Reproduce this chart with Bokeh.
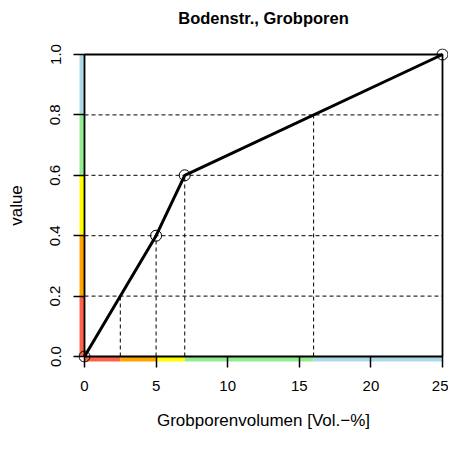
from bokeh.plotting import figure
from bokeh.models import Range1d, FixedTicker, NumeralTickFormatter, Title
from bokeh.embed import file_html
from bokeh.resources import INLINE

# ---- data ----
volume = [0, 5, 7, 25]
score = [0.0, 0.4, 0.6, 1.0]
class_values = [0.2, 0.4, 0.6, 0.8]
class_volumes = [2.5, 5, 7, 16]
band_x = [0, 2.5, 5, 7, 16, 25]
band_y = [0.0, 0.2, 0.4, 0.6, 0.8, 1.0]
band_colors = ["tomato", "orange", "yellow", "lightgreen", "lightblue"]
x_ticks = [0, 5, 10, 15, 20, 25]
y_ticks = [0.0, 0.2, 0.4, 0.6, 0.8, 1.0]
title_text = "Bodenstr., Grobporen"
x_label = "Grobporenvolumen [Vol.\u2212%]"
y_label = "value"

# ---- layout (pixels) ----
W, H = 448, 434
MB_L, MB_R, MB_T, MB_B = 78, 0, 48, 72
PAD = 6      # px between frame edge and data box
BAND = 5     # px band thickness
FONT = "Liberation Sans"

x_lo, x_hi = band_x[0], band_x[-1]
y_lo, y_hi = band_y[0], band_y[-1]
ppx = (W - MB_L - MB_R - 2 * PAD) / (x_hi - x_lo)
ppy = (H - MB_T - MB_B - 2 * PAD) / (y_hi - y_lo)

p = figure(width=W, height=H, output_backend="svg", toolbar_location=None,
           x_range=Range1d(x_lo - PAD / ppx, x_hi + PAD / ppx),
           y_range=Range1d(y_lo - PAD / ppy, y_hi + PAD / ppy),
           min_border_left=MB_L, min_border_right=MB_R,
           min_border_top=MB_T, min_border_bottom=MB_B,
           title=title_text)
p.outline_line_color = None
p.xgrid.grid_line_color = None
p.ygrid.grid_line_color = None
p.background_fill_color = "white"
p.border_fill_color = "white"

# real title (outer) with an invisible spacer title between it and the frame
p.title.text_font = FONT
p.title.text_font_size = "16.5px"
p.title.text_font_style = "bold"
p.title.align = "center"
p.title.text_color = "black"
p.title.standoff = 4
p.add_layout(Title(text=" ", text_font_size="1px", standoff=17), "above")

# colored bands outside the box
bx = BAND / ppx
by = BAND / ppy
p.quad(left=band_x[:-1], right=band_x[1:], bottom=[y_lo - by] * 5, top=[y_lo] * 5,
       fill_color=band_colors, line_color=None)
p.quad(left=[x_lo - bx] * 5, right=[x_lo] * 5, bottom=band_y[:-1], top=band_y[1:],
       fill_color=band_colors, line_color=None)

# dashed helper lines
p.segment(x0=[x_lo] * len(class_values), y0=class_values,
          x1=[x_hi] * len(class_values), y1=class_values,
          line_color="black", line_width=1, line_dash="4 3")
p.segment(x0=class_volumes, y0=[y_lo] * len(class_volumes),
          x1=class_volumes, y1=class_values,
          line_color="black", line_width=1, line_dash="4 3")

# box
p.line([x_lo, x_hi, x_hi, x_lo, x_lo], [y_lo, y_lo, y_hi, y_hi, y_lo],
       line_color="black", line_width=1.8)

# curve
p.line(volume, score, line_color="black", line_width=3)
p.scatter(volume, score, size=11, fill_color=None, line_color="black", line_width=1)

for ax in (p.xaxis[0], p.yaxis[0]):
    ax.axis_line_color = None
    ax.major_tick_in = PAD
    ax.major_tick_out = 5
    ax.major_tick_line_color = "black"
    ax.major_tick_line_width = 1.5
    ax.minor_tick_line_color = None
    ax.major_label_text_font = FONT
    ax.major_label_text_font_size = "15px"
    ax.major_label_text_color = "black"
    ax.axis_label_text_font = FONT
    ax.axis_label_text_font_size = "17px"
    ax.axis_label_text_font_style = "normal"
    ax.axis_label_text_color = "black"

p.xaxis.ticker = FixedTicker(ticks=x_ticks)
p.yaxis.ticker = FixedTicker(ticks=y_ticks)
p.yaxis.formatter = NumeralTickFormatter(format="0.0")
p.yaxis.major_label_orientation = "vertical"
p.xaxis.axis_label = x_label
p.yaxis.axis_label = y_label
p.xaxis.major_label_standoff = 13
p.yaxis.major_label_standoff = 13
p.xaxis.axis_label_standoff = 17
p.yaxis.axis_label_standoff = 22

open("out.html", "w").write(file_html(p, INLINE))
